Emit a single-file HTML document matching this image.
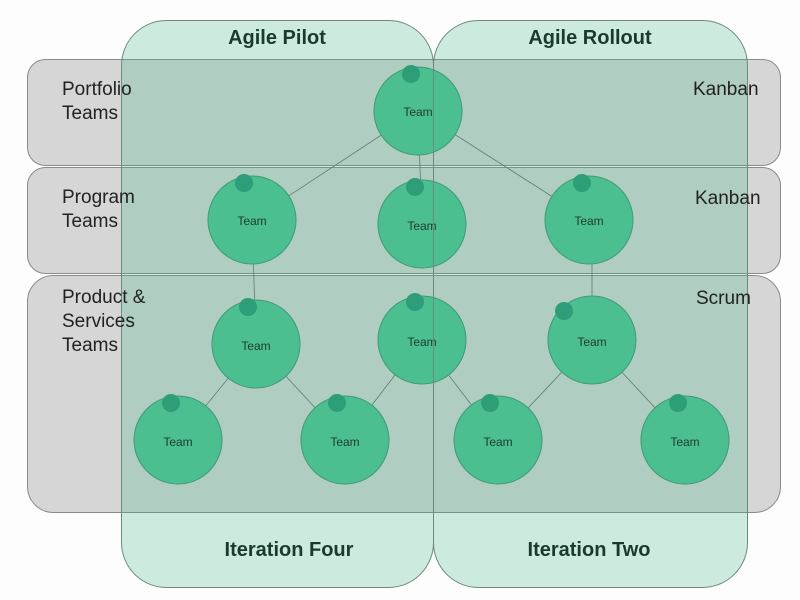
<!DOCTYPE html>
<html><head><style>body{margin:0;background:#fff}svg{display:block}</style></head><body>
<svg width="800" height="600" viewBox="0 0 800 600" xmlns="http://www.w3.org/2000/svg" font-family="Liberation Sans, sans-serif">
<rect width="800" height="600" fill="#fcfdfc"/>
<g fill="#d6d6d6" stroke="#8a8a8a" stroke-width="1">
<rect x="27.5" y="59.5" width="753" height="106" rx="18"/>
<rect x="27.5" y="167.5" width="753" height="106" rx="18"/>
<rect x="27.5" y="275.5" width="753" height="237" rx="26"/>
</g>
<g fill="rgba(60,180,130,0.25)" stroke="none">
<rect x="121.5" y="20.5" width="312" height="567" rx="45"/>
<rect x="433.5" y="20.5" width="314" height="567" rx="45"/>
</g>
<g stroke="#5d7d70" stroke-width="0.8">
<line x1="418" y1="111" x2="252" y2="220"/>
<line x1="418" y1="111" x2="422" y2="224"/>
<line x1="418" y1="111" x2="589" y2="220"/>
<line x1="252" y1="220" x2="256" y2="344"/>
<line x1="256" y1="344" x2="178" y2="440"/>
<line x1="256" y1="344" x2="345" y2="440"/>
<line x1="422" y1="340" x2="345" y2="440"/>
<line x1="422" y1="340" x2="498" y2="440"/>
<line x1="592" y1="220" x2="592" y2="340"/>
<line x1="592" y1="340" x2="498" y2="440"/>
<line x1="592" y1="340" x2="685" y2="440"/>
</g>
<g fill="#4bbf90" stroke="#3f9a76" stroke-width="1">
<circle cx="418" cy="111" r="44"/>
<circle cx="252" cy="220" r="44"/>
<circle cx="422" cy="224" r="44"/>
<circle cx="589" cy="220" r="44"/>
<circle cx="256" cy="344" r="44"/>
<circle cx="422" cy="340" r="44"/>
<circle cx="592" cy="340" r="44"/>
<circle cx="178" cy="440" r="44"/>
<circle cx="345" cy="440" r="44"/>
<circle cx="498" cy="440" r="44"/>
<circle cx="685" cy="440" r="44"/>
</g>
<g fill="#2e9e78">
<circle cx="411" cy="74" r="9"/><circle cx="244" cy="183" r="9"/><circle cx="415" cy="187" r="9"/><circle cx="582" cy="183" r="9"/>
<circle cx="248" cy="307" r="9"/><circle cx="415" cy="302" r="9"/><circle cx="564" cy="311" r="9"/>
<circle cx="171" cy="403" r="9"/><circle cx="337" cy="403" r="9"/><circle cx="490" cy="403" r="9"/><circle cx="678" cy="403" r="9"/>
</g>
<g fill="#1f3a30" font-size="12" text-anchor="middle">
<text x="418" y="116">Team</text><text x="252" y="225">Team</text><text x="422" y="230">Team</text><text x="589" y="225">Team</text>
<text x="256" y="350">Team</text><text x="422" y="346">Team</text><text x="592" y="346">Team</text>
<text x="178" y="446">Team</text><text x="345" y="446">Team</text><text x="498" y="446">Team</text><text x="685" y="446">Team</text>
</g>
<g fill="none" stroke="#6e8a7e" stroke-width="1">
<rect x="121.5" y="20.5" width="312" height="567" rx="45"/>
<rect x="433.5" y="20.5" width="314" height="567" rx="45"/>
</g>
<g fill="#222" font-size="19">
<text x="62" y="95">Portfolio</text><text x="62" y="119">Teams</text>
<text x="62" y="203">Program</text><text x="62" y="227">Teams</text>
<text x="62" y="303">Product &amp;</text><text x="62" y="327">Services</text><text x="62" y="351">Teams</text>
<text x="693" y="95">Kanban</text><text x="695" y="204">Kanban</text><text x="696" y="304">Scrum</text>
</g>
<g fill="#1a3a2e" font-size="20" font-weight="bold" text-anchor="middle">
<text x="277" y="44">Agile Pilot</text><text x="590" y="44">Agile Rollout</text>
<text x="289" y="556">Iteration Four</text><text x="589" y="556">Iteration Two</text>
</g>
</svg>
</body></html>
